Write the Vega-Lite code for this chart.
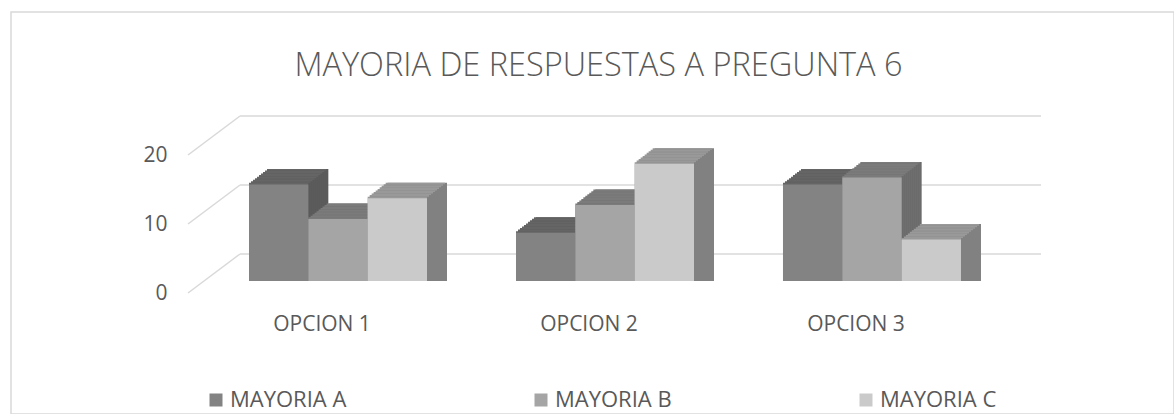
{
 "$schema": "https://vega.github.io/schema/vega-lite/v6.json",
 "width": 1163, "height": 402,
 "autosize": {"type": "none"},
 "padding": {"left": 11, "top": 12, "right": 0, "bottom": 0},
 "background": "white",
 "config": {"view": {"stroke": null}, "font": "Open Sans"},
 "title": {"text": "MAYORIA DE RESPUESTAS A PREGUNTA 6", "font": "Open Sans", "fontSize": 32.5, "fontWeight": 300, "color": "#595959", "anchor": "middle", "frame": "group", "dx": 6, "offset": -97, "baseline": "alphabetic"},
 "datasets": {
  "resp": [
   {"opcion": "OPCION 1", "serie": "MAYORIA A", "value": 14},
   {"opcion": "OPCION 1", "serie": "MAYORIA B", "value": 9},
   {"opcion": "OPCION 1", "serie": "MAYORIA C", "value": 12},
   {"opcion": "OPCION 2", "serie": "MAYORIA A", "value": 7},
   {"opcion": "OPCION 2", "serie": "MAYORIA B", "value": 11},
   {"opcion": "OPCION 2", "serie": "MAYORIA C", "value": 17},
   {"opcion": "OPCION 3", "serie": "MAYORIA A", "value": 14},
   {"opcion": "OPCION 3", "serie": "MAYORIA B", "value": 15},
   {"opcion": "OPCION 3", "serie": "MAYORIA C", "value": 6}
  ],
  "ticks": [{"value": 0}, {"value": 10}, {"value": 20}]
 },
 "layer": [
  {
   "data": {"values": [{}]},
   "mark": {"type": "rect", "fillOpacity": 0, "stroke": "#d9d9d9", "strokeWidth": 1.5, "x2Offset": 10, "y2Offset": 10},
   "encoding": {}
  },
  {
   "data": {"name": "ticks"},
   "encoding": {"y": {"field": "value", "type": "quantitative", "scale": {"domain": [0, 20], "range": [269, 131], "nice": false},
          "axis": {"title": null, "domain": false, "ticks": false, "tickSize": 0, "grid": false, "labelPadding": 0, "offset": -156, "labelOffset": 12, "values": [0, 10, 20], "labelFont": "Open Sans", "labelFontSize": 21, "labelColor": "#595959"}}},
   "layer": [
    {
     "mark": {"type": "rule", "color": "#d9d9d9", "strokeWidth": 1.5, "xOffset": 36, "x2Offset": 36, "yOffset": -27},
     "encoding": {
      "x": {"datum": 0, "type": "quantitative", "scale": {"domain": [0, 1], "range": [193, 994], "nice": false}, "axis": null},
      "x2": {"datum": 1}
     }
    },
    {
     "mark": {"type": "rule", "color": "#d9d9d9", "strokeWidth": 1.5, "xOffset": -16, "x2Offset": 36, "yOffset": 12, "y2Offset": -27},
     "encoding": {
      "x": {"datum": 0, "type": "quantitative", "scale": {"domain": [0, 1], "range": [193, 994], "nice": false}, "axis": null},
      "x2": {"datum": 0},
      "y2": {"field": "value"}
     }
    }
   ]
  },
  {
   "data": {"name": "resp"},
   "encoding": {
    "x": {"field": "opcion", "type": "nominal", "scale": {"range": [193.5, 994.5], "paddingInner": 0.3333, "paddingOuter": 0.1667},
          "axis": {"title": null, "domain": false, "ticks": false, "tickSize": 0, "grid": false, "labelPadding": 0, "offset": -101, "labelOffset": -16, "labelAngle": 0, "labelBaseline": "top", "labelFont": "Open Sans", "labelFontSize": 21, "labelColor": "#595959"}},
    "y": {"field": "value", "type": "quantitative", "stack": null, "scale": {"domain": [0, 20], "range": [269, 131], "nice": false},
          "axis": {"title": null, "domain": false, "ticks": false, "tickSize": 0, "grid": false, "labelPadding": 0, "offset": -156, "labelOffset": 12, "values": [0, 10, 20], "labelFont": "Open Sans", "labelFontSize": 21, "labelColor": "#595959"}}
   },
   "layer": [
    {"mark": {"type": "bar", "yOffset": -15.5, "y2Offset": -15.5}, "encoding": {"xOffset": {"field": "serie", "scale": {"range": [20, 198], "paddingInner": 0, "paddingOuter": 0}}, "color": {"field": "serie", "scale": {"range": ["#5a5a5a", "#6b6b6b", "#818181"]}, "legend": null}}},
    {"mark": {"type": "bar", "yOffset": -15.5, "y2Offset": -15.5}, "encoding": {"xOffset": {"field": "serie", "scale": {"range": [18, 196], "paddingInner": 0, "paddingOuter": 0}}, "color": {"field": "serie", "scale": {"range": ["#656565", "#7b7b7b", "#999999"]}, "legend": null}}},
    {"mark": {"type": "bar", "yOffset": -13.95, "y2Offset": -13.95}, "encoding": {"xOffset": {"field": "serie", "scale": {"range": [18, 196], "paddingInner": 0, "paddingOuter": 0}}, "color": {"field": "serie", "scale": {"range": ["#5a5a5a", "#6b6b6b", "#818181"]}, "legend": null}}},
    {"mark": {"type": "bar", "yOffset": -13.95, "y2Offset": -13.95}, "encoding": {"xOffset": {"field": "serie", "scale": {"range": [16, 194], "paddingInner": 0, "paddingOuter": 0}}, "color": {"field": "serie", "scale": {"range": ["#656565", "#7b7b7b", "#999999"]}, "legend": null}}},
    {"mark": {"type": "bar", "yOffset": -12.4, "y2Offset": -12.4}, "encoding": {"xOffset": {"field": "serie", "scale": {"range": [16, 194], "paddingInner": 0, "paddingOuter": 0}}, "color": {"field": "serie", "scale": {"range": ["#5a5a5a", "#6b6b6b", "#818181"]}, "legend": null}}},
    {"mark": {"type": "bar", "yOffset": -12.4, "y2Offset": -12.4}, "encoding": {"xOffset": {"field": "serie", "scale": {"range": [14, 192], "paddingInner": 0, "paddingOuter": 0}}, "color": {"field": "serie", "scale": {"range": ["#656565", "#7b7b7b", "#999999"]}, "legend": null}}},
    {"mark": {"type": "bar", "yOffset": -10.85, "y2Offset": -10.85}, "encoding": {"xOffset": {"field": "serie", "scale": {"range": [14, 192], "paddingInner": 0, "paddingOuter": 0}}, "color": {"field": "serie", "scale": {"range": ["#5a5a5a", "#6b6b6b", "#818181"]}, "legend": null}}},
    {"mark": {"type": "bar", "yOffset": -10.85, "y2Offset": -10.85}, "encoding": {"xOffset": {"field": "serie", "scale": {"range": [12, 190], "paddingInner": 0, "paddingOuter": 0}}, "color": {"field": "serie", "scale": {"range": ["#656565", "#7b7b7b", "#999999"]}, "legend": null}}},
    {"mark": {"type": "bar", "yOffset": -9.3, "y2Offset": -9.3}, "encoding": {"xOffset": {"field": "serie", "scale": {"range": [12, 190], "paddingInner": 0, "paddingOuter": 0}}, "color": {"field": "serie", "scale": {"range": ["#5a5a5a", "#6b6b6b", "#818181"]}, "legend": null}}},
    {"mark": {"type": "bar", "yOffset": -9.3, "y2Offset": -9.3}, "encoding": {"xOffset": {"field": "serie", "scale": {"range": [10, 188], "paddingInner": 0, "paddingOuter": 0}}, "color": {"field": "serie", "scale": {"range": ["#656565", "#7b7b7b", "#999999"]}, "legend": null}}},
    {"mark": {"type": "bar", "yOffset": -7.75, "y2Offset": -7.75}, "encoding": {"xOffset": {"field": "serie", "scale": {"range": [10, 188], "paddingInner": 0, "paddingOuter": 0}}, "color": {"field": "serie", "scale": {"range": ["#5a5a5a", "#6b6b6b", "#818181"]}, "legend": null}}},
    {"mark": {"type": "bar", "yOffset": -7.75, "y2Offset": -7.75}, "encoding": {"xOffset": {"field": "serie", "scale": {"range": [8, 186], "paddingInner": 0, "paddingOuter": 0}}, "color": {"field": "serie", "scale": {"range": ["#656565", "#7b7b7b", "#999999"]}, "legend": null}}},
    {"mark": {"type": "bar", "yOffset": -6.2, "y2Offset": -6.2}, "encoding": {"xOffset": {"field": "serie", "scale": {"range": [8, 186], "paddingInner": 0, "paddingOuter": 0}}, "color": {"field": "serie", "scale": {"range": ["#5a5a5a", "#6b6b6b", "#818181"]}, "legend": null}}},
    {"mark": {"type": "bar", "yOffset": -6.2, "y2Offset": -6.2}, "encoding": {"xOffset": {"field": "serie", "scale": {"range": [6, 184], "paddingInner": 0, "paddingOuter": 0}}, "color": {"field": "serie", "scale": {"range": ["#656565", "#7b7b7b", "#999999"]}, "legend": null}}},
    {"mark": {"type": "bar", "yOffset": -4.65, "y2Offset": -4.65}, "encoding": {"xOffset": {"field": "serie", "scale": {"range": [6, 184], "paddingInner": 0, "paddingOuter": 0}}, "color": {"field": "serie", "scale": {"range": ["#5a5a5a", "#6b6b6b", "#818181"]}, "legend": null}}},
    {"mark": {"type": "bar", "yOffset": -4.65, "y2Offset": -4.65}, "encoding": {"xOffset": {"field": "serie", "scale": {"range": [4, 182], "paddingInner": 0, "paddingOuter": 0}}, "color": {"field": "serie", "scale": {"range": ["#656565", "#7b7b7b", "#999999"]}, "legend": null}}},
    {"mark": {"type": "bar", "yOffset": -3.1, "y2Offset": -3.1}, "encoding": {"xOffset": {"field": "serie", "scale": {"range": [4, 182], "paddingInner": 0, "paddingOuter": 0}}, "color": {"field": "serie", "scale": {"range": ["#5a5a5a", "#6b6b6b", "#818181"]}, "legend": null}}},
    {"mark": {"type": "bar", "yOffset": -3.1, "y2Offset": -3.1}, "encoding": {"xOffset": {"field": "serie", "scale": {"range": [2, 180], "paddingInner": 0, "paddingOuter": 0}}, "color": {"field": "serie", "scale": {"range": ["#656565", "#7b7b7b", "#999999"]}, "legend": null}}},
    {"mark": {"type": "bar", "yOffset": -1.55, "y2Offset": -1.55}, "encoding": {"xOffset": {"field": "serie", "scale": {"range": [2, 180], "paddingInner": 0, "paddingOuter": 0}}, "color": {"field": "serie", "scale": {"range": ["#5a5a5a", "#6b6b6b", "#818181"]}, "legend": null}}},
    {"mark": {"type": "bar", "yOffset": -1.55, "y2Offset": -1.55}, "encoding": {"xOffset": {"field": "serie", "scale": {"range": [0, 178], "paddingInner": 0, "paddingOuter": 0}}, "color": {"field": "serie", "scale": {"range": ["#656565", "#7b7b7b", "#999999"]}, "legend": null}}},
    {"mark": {"type": "bar"}, "encoding": {"xOffset": {"field": "serie", "scale": {"range": [0, 178], "paddingInner": 0, "paddingOuter": 0}}, "color": {"field": "serie", "scale": {"range": ["#838383", "#a5a5a5", "#cacaca"]},
      "legend": {"title": null, "orient": "none", "legendX": 194, "legendY": 377, "direction": "horizontal", "symbolType": "square", "symbolSize": 169, "symbolStrokeWidth": 0, "labelFont": "Open Sans", "labelFontSize": 22, "labelColor": "#595959", "labelOffset": 3, "columnPadding": 183, "padding": 0}}}}
   ],
   "resolve": {"scale": {"xOffset": "independent", "color": "independent"}}
  }
 ],
 "resolve": {"scale": {"x": "independent"}}
}
